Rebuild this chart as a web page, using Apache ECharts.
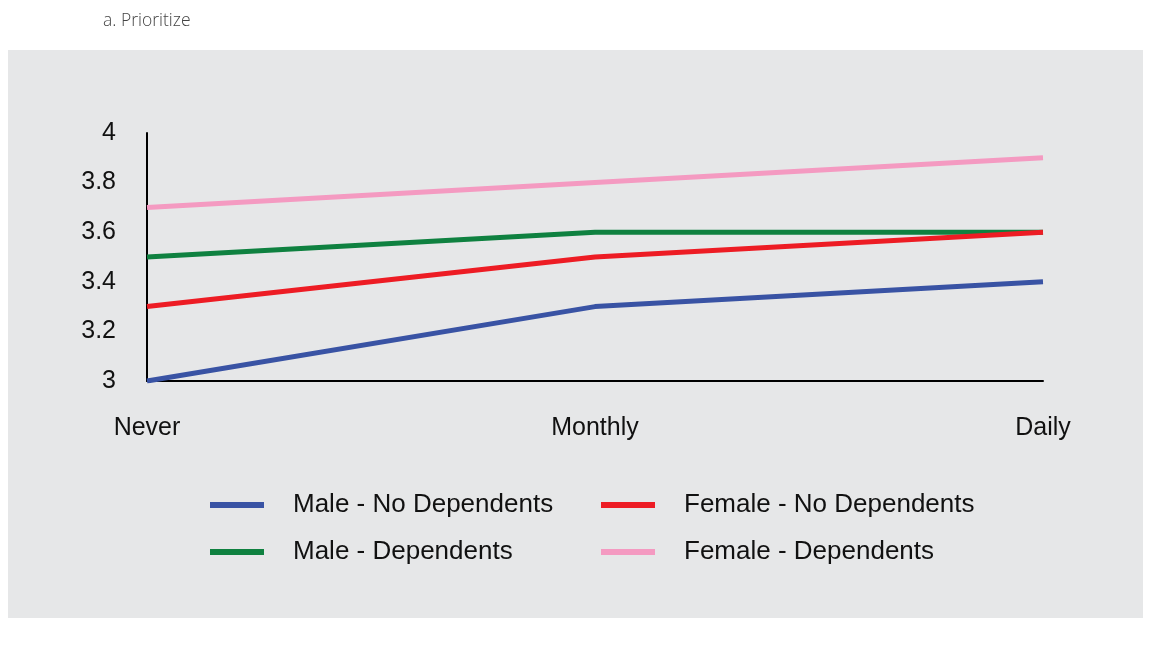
<!DOCTYPE html>
<html>
<head>
<meta charset="utf-8">
<script src="https://cdn.jsdelivr.net/npm/echarts@6/dist/echarts.min.js"></script>
<style>
html,body{margin:0;padding:0;background:#fff;}
#chart{width:1157px;height:646px;}
</style>
</head>
<body>
<div id="chart"></div>
<script>
var categories = ['Never', 'Monthly', 'Daily'];
var maleNoDep = [3.0, 3.3, 3.4];
var maleDep = [3.5, 3.6, 3.6];
var femaleNoDep = [3.3, 3.5, 3.6];
var femaleDep = [3.7, 3.8, 3.9];

var myChart = echarts.init(document.getElementById('chart'));

var font = '"Liberation Sans", Arial, sans-serif';
var legendText = {
    fontFamily: font,
    fontSize: 26,
    color: '#111',
    lineHeight: 26,
    padding: [0, 0, 0, 24]
};

option = {
    animation: false,
    title: {
        text: 'a. Prioritize',
        left: 98,
        top: 7,
        textStyle: {fontFamily: 'Open Sans', fontWeight: 300, fontSize: 17.5, color: '#444'}
    },
    graphic: [{
        type: 'rect',
        z: -10,
        shape: {x: 8, y: 50, width: 1135, height: 568},
        style: {fill: '#e6e7e8'}
    }],
    legend: [
        {
            data: ['Male - No Dependents', 'Male - Dependents'],
            orient: 'vertical',
            left: 205,
            top: 487,
            icon: 'rect',
            itemWidth: 54,
            itemHeight: 6,
            itemGap: 21,
            textStyle: legendText
        },
        {
            data: ['Female - No Dependents', 'Female - Dependents'],
            orient: 'vertical',
            left: 596,
            top: 487,
            icon: 'rect',
            itemWidth: 54,
            itemHeight: 6,
            itemGap: 21,
            textStyle: legendText
        }
    ],
    grid: {left: 147, right: 114, top: 133, bottom: 265},
    xAxis: {
        type: 'category',
        data: categories,
        boundaryGap: false,
        axisLine: {lineStyle: {color: '#000', width: 2}},
        axisTick: {show: false},
        axisLabel: {margin: 35, fontFamily: font, fontSize: 25, color: '#111'}
    },
    yAxis: {
        type: 'value',
        min: 3,
        max: 4,
        interval: 0.2,
        axisLine: {show: true, lineStyle: {color: '#000', width: 2}},
        axisTick: {show: false},
        splitLine: {show: false},
        axisLabel: {margin: 31, fontFamily: font, fontSize: 25, color: '#111'}
    },
    series: [
        {name: 'Male - No Dependents', type: 'line', data: maleNoDep, symbol: 'none', color: '#3953a4', lineStyle: {width: 5}},
        {name: 'Male - Dependents', type: 'line', data: maleDep, symbol: 'none', color: '#0f8140', lineStyle: {width: 5}},
        {name: 'Female - No Dependents', type: 'line', data: femaleNoDep, symbol: 'none', color: '#ed1c24', lineStyle: {width: 5}},
        {name: 'Female - Dependents', type: 'line', data: femaleDep, symbol: 'none', color: '#f49ac1', lineStyle: {width: 5}}
    ]
};
myChart.setOption(option);
window.addEventListener('resize', function(){ myChart.resize(); });
</script>
</body>
</html>
